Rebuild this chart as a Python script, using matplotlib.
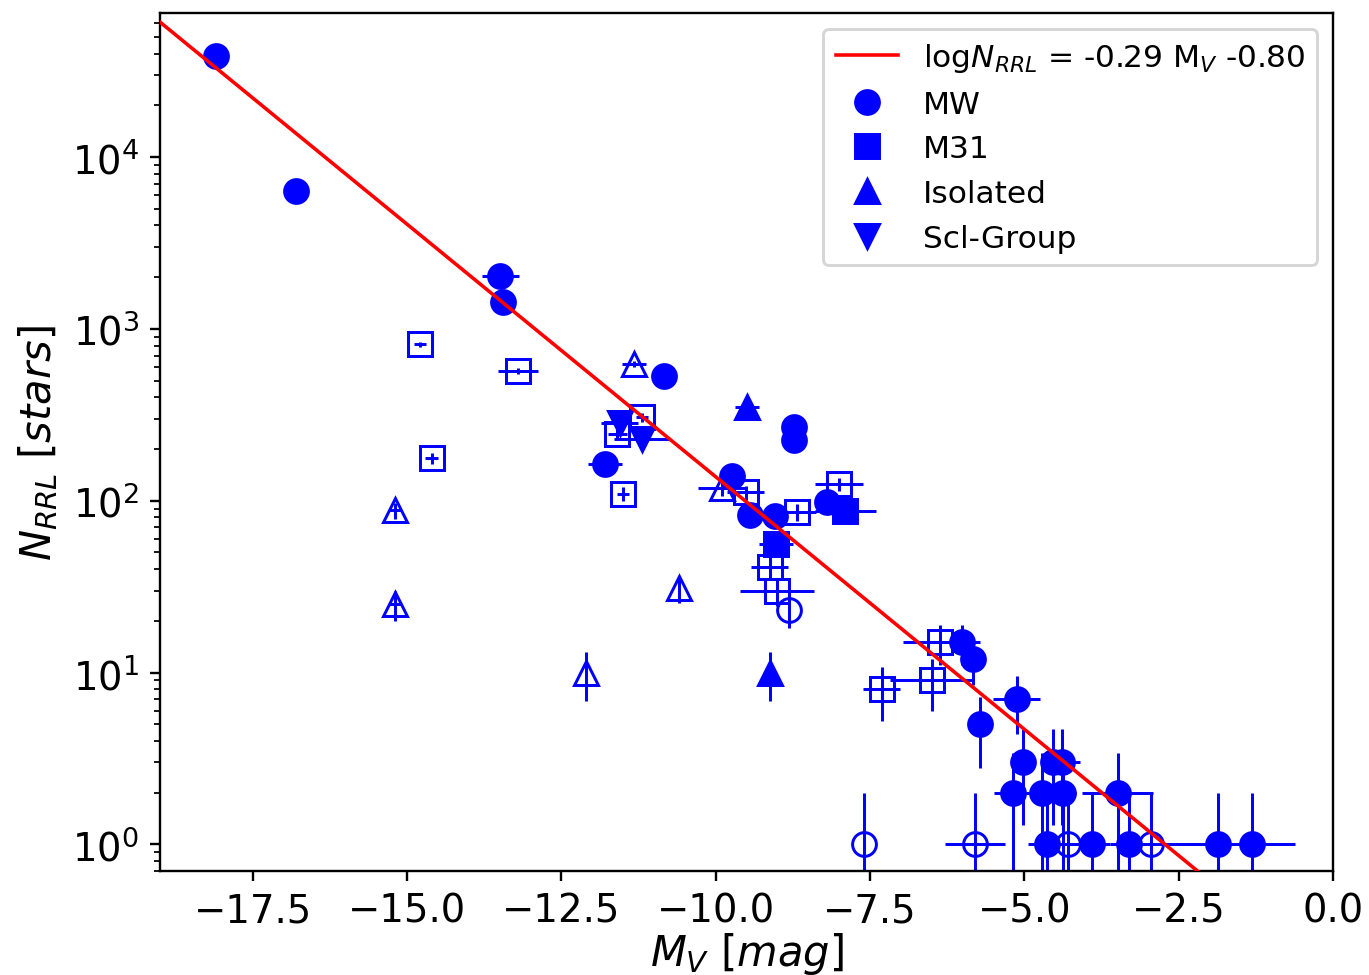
import matplotlib.pyplot as plt
import numpy as np

# MW satellites (filled circles)
mw_mv = [-18.10, -16.80, -13.49, -13.45, -10.83, -8.73, -8.73, -11.79, -9.73,
         -9.44, -9.04, -8.20, -6.01, -5.83, -5.72, -5.12, -5.02, -4.54, -4.39,
         -5.19, -4.72, -4.37, -3.49, -4.64, -3.91, -3.31, -1.87, -1.32]
mw_n = [38600, 6330, 2025, 1430, 530, 267, 225, 163, 139,
        83, 81, 99, 15, 12, 5, 7, 3, 3, 3,
        2, 2, 2, 2, 1, 1, 1, 1, 1]
mw_xerr = [0, 0, 0.3, 0, 0, 0, 0, 0.28, 0,
           0, 0, 0, 0.3, 0, 0, 0.38, 0.15, 0.15, 0.3,
           0.3, 0.3, 0.2, 0.58, 0.3, 0.3, 0.3, 0.5, 0.7]
mw_yerr = [196, 80, 45, 38, 23, 16, 15, 13, 12,
           9.1, 9.0, 10, 3.9, 3.5, 2.2, 2.6, 1.7, 1.7, 1.7,
           1.4, 1.4, 1.4, 1.4, 1, 1, 1, 1, 1]

# MW satellites (open circles)
mw_open_mv = [-8.81, -7.60, -5.80, -4.30, -2.94]
mw_open_n = [23, 1, 1, 1, 1]
mw_open_xerr = [0, 0, 0.49, 0.3, 0.6]
mw_open_yerr = [4.8, 1, 1, 1, 1]

# M31 satellites (filled squares)
m31_mv = [-9.02, -7.90]
m31_n = [56, 87]
m31_xerr = [0.27, 0.49]
m31_yerr = [7.5, 9.3]

# M31 satellites (open squares)
m31_open_mv = [-14.79, -13.20, -14.60, -11.50, -11.59, -11.19, -9.51, -8.68,
               -8.00, -9.12, -9.01, -7.31, -6.50, -6.37]
m31_open_n = [813, 569, 177, 110, 245, 306, 112, 86,
              125, 41, 30, 8, 9, 15]
m31_open_xerr = [0.1, 0.32, 0.1, 0.1, 0.15, 0.1, 0.3, 0.3,
                 0.39, 0.3, 0.6, 0.3, 0.67, 0.6]
m31_open_yerr = [28.5, 24, 13.3, 10.5, 15.7, 17.5, 10.6, 9.3,
                 11.2, 6.4, 5.5, 2.8, 3.0, 3.9]

# isolated dwarfs (filled / open up-triangles)
iso_mv = [-9.49, -9.12]
iso_n = [350, 10]
iso_xerr = [0.2, 0]
iso_yerr = [18.7, 3.2]

iso_open_mv = [-15.19, -15.19, -12.10, -10.60, -11.32, -9.89]
iso_open_n = [88, 25, 10, 31, 622, 118]
iso_open_xerr = [0.1, 0.1, 0, 0, 0.2, 0.4]
iso_open_yerr = [9.4, 5, 3.2, 5.6, 25, 10.9]

# Sculptor group (filled down-triangles)
scl_mv = [-11.55, -11.19]
scl_n = [283, 228]
scl_xerr = [0.3, 0.45]
scl_yerr = [16.8, 15.1]

# log N_RRL = slope * M_V + zero
fit_slope = -0.294
fit_zero = -0.80


def draw_group(ax, mv, n, xerr, yerr, marker, filled):
    face = 'blue' if filled else 'none'
    ax.errorbar(mv, n, xerr=xerr, yerr=yerr, fmt=marker, color='blue',
                mfc=face, mec='blue', ms=8, mew=1.0, elinewidth=1.0,
                capsize=0, zorder=2)


def main():
    dpi = 214
    fig = plt.figure(figsize=(1369 / dpi, 976 / dpi), dpi=dpi)
    ax = fig.add_axes([160 / 1369, 1 - 872 / 976, 1173 / 1369, 858 / 976])

    draw_group(ax, mw_mv, mw_n, mw_xerr, mw_yerr, 'o', True)
    draw_group(ax, mw_open_mv, mw_open_n, mw_open_xerr, mw_open_yerr, 'o', False)
    draw_group(ax, m31_mv, m31_n, m31_xerr, m31_yerr, 's', True)
    draw_group(ax, m31_open_mv, m31_open_n, m31_open_xerr, m31_open_yerr, 's', False)
    draw_group(ax, iso_mv, iso_n, iso_xerr, iso_yerr, '^', True)
    draw_group(ax, iso_open_mv, iso_open_n, iso_open_xerr, iso_open_yerr, '^', False)
    draw_group(ax, scl_mv, scl_n, scl_xerr, scl_yerr, 'v', True)

    xfit = np.array([-19.0, 0.0])
    fit_label = r'log$N_{RRL}$ = %.2f M$_V$ %.2f' % (fit_slope, fit_zero)
    ax.plot(xfit, 10 ** (fit_slope * xfit + fit_zero), color='red', lw=1.2,
            zorder=3, label=fit_label)

    # legend proxies, markers only
    ax.plot([], [], 'o', color='blue', ms=8, label='MW')
    ax.plot([], [], 's', color='blue', ms=8, label='M31')
    ax.plot([], [], '^', color='blue', ms=8, label='Isolated')
    ax.plot([], [], 'v', color='blue', ms=8, label='Scl-Group')

    ax.set_yscale('log')
    ax.set_xlim(-19, 0)
    ax.set_ylim(0.7, 6.9e4)
    ax.set_xticks(np.arange(-17.5, 0.1, 2.5))
    ax.tick_params(labelsize=13)
    ax.set_xlabel(r'$M_V\ [mag]$', fontsize=14, labelpad=0)
    ax.set_ylabel(r'$N_{RRL}\ [stars]$', fontsize=14)
    ax.legend(loc='upper right', fontsize=10.5)

    fig.savefig('out.png', dpi=dpi)


if __name__ == "__main__":
    main()
